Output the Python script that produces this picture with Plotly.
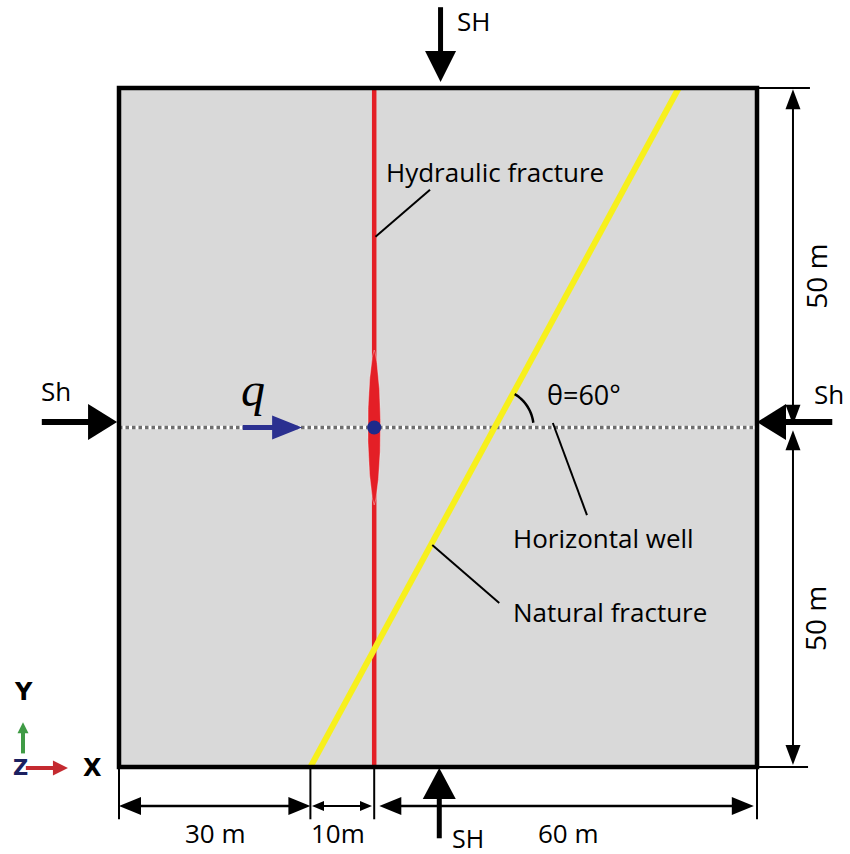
import math
import numpy as np
import plotly.graph_objects as go

# ---------------------------------------------------------------- canvas
W, H = 850, 854
X_RANGE = [-18.652, 114.577]
Y_RANGE = [-12.813, 112.960]
MX = (X_RANGE[1] - X_RANGE[0]) / W   # metres per pixel along x
MY = (Y_RANGE[1] - Y_RANGE[0]) / H   # metres per pixel along y

# ---------------------------------------------------------------- model data (m)
domain_x = [0, 100]
domain_y = [0, 100]
well_y = 50
hf_x = 40                      # hydraulic fracture position
hf_half_length = 11.4          # opened part of the hydraulic fracture
hf_half_aperture = 1.0
nf_x0 = 30                     # natural fracture trace at y = 0
nf_angle_deg = 60              # approach angle θ
q_arrow_x = [19.4, 28.7]

seg_edges = [0, 30, 40, 100]
seg_labels = ["30 m", "10m", "60 m"]
half_edges = [0, 50, 100]
half_labels = ["50 m", "50 m"]

FONT = "Open Sans"
RED = "#e41f26"
YELLOW = "#f7f01c"
NAVY = "#2b3090"

shapes, annotations = [], []


def head(tx, ty, fx, fy, L, Wd, color):
    """Filled triangular arrow head with its tip at (tx, ty), pointing away from (fx, fy)."""
    ux, uy = (tx - fx) / MX, (ty - fy) / MY
    n = math.hypot(ux, uy)
    ux, uy = ux / n, uy / n
    px, py = -uy, ux
    pts = [(0, 0),
           (-L * ux + Wd / 2 * px, -L * uy + Wd / 2 * py),
           (-L * ux - Wd / 2 * px, -L * uy - Wd / 2 * py)]
    path = "M " + " L ".join(f"{tx + a * MX:.4f},{ty + b * MY:.4f}" for a, b in pts) + " Z"
    shapes.append(dict(type="path", path=path, xref="x", yref="y",
                       fillcolor=color, line=dict(width=0), layer="above"))
    return ux, uy


def seg(x0, y0, x1, y1, color="black", width=2):
    shapes.append(dict(type="line", x0=x0, y0=y0, x1=x1, y1=y1, xref="x", yref="y",
                       line=dict(color=color, width=width), layer="above"))


def arrow(x0, y0, x1, y1, color="black", width=2, L=20, Wd=16, both=False):
    ux, uy = head(x1, y1, x0, y0, L, Wd, color)
    ex, ey = x1 - 0.7 * L * ux * MX, y1 - 0.7 * L * uy * MY
    sx, sy = x0, y0
    if both:
        vx, vy = head(x0, y0, x1, y1, L, Wd, color)
        sx, sy = x0 - 0.7 * L * vx * MX, y0 - 0.7 * L * vy * MY
    seg(sx, sy, ex, ey, color, width)


def label(x, y, text, size=26, color="black", **kw):
    annotations.append(dict(x=x, y=y, xref="x", yref="y", text=text, showarrow=False,
                            font=dict(family=FONT, size=size, color=color), **kw))


fig = go.Figure()

# rock block
shapes.append(dict(type="rect", x0=domain_x[0], x1=domain_x[1], y0=domain_y[0], y1=domain_y[1],
                   xref="x", yref="y", fillcolor="#d9d9d9", line=dict(width=0), layer="below"))

# horizontal well (white core with grey dots)
fig.add_trace(go.Scatter(x=domain_x, y=[well_y, well_y], mode="lines",
                         line=dict(color="white", width=3.5), hoverinfo="skip"))
fig.add_trace(go.Scatter(x=domain_x, y=[well_y, well_y], mode="lines",
                         line=dict(color="#6f6f6f", width=3.5, dash="3.5px,3px"), hoverinfo="skip"))

# hydraulic fracture
fig.add_trace(go.Scatter(x=[hf_x, hf_x], y=domain_y, mode="lines",
                         line=dict(color=RED, width=4.5), hoverinfo="skip"))

# natural fracture
t = math.tan(math.radians(nf_angle_deg))
nf_x = [nf_x0, nf_x0 + (domain_y[1] - domain_y[0]) / t]
fig.add_trace(go.Scatter(x=nf_x, y=domain_y, mode="lines",
                         line=dict(color=YELLOW, width=6), hoverinfo="skip"))

# opened part of the hydraulic fracture
s = np.linspace(-1, 1, 81)
lens_y = well_y + hf_half_length * s
lens_w = hf_half_aperture * (1 - s ** 2) ** 0.7
fig.add_trace(go.Scatter(x=np.concatenate([hf_x + lens_w, (hf_x - lens_w)[::-1]]),
                         y=np.concatenate([lens_y, lens_y[::-1]]),
                         mode="lines", fill="toself", fillcolor=RED,
                         line=dict(color="rgba(255,255,255,0.45)", width=0.8), hoverinfo="skip"))

# injection point
fig.add_trace(go.Scatter(x=[hf_x], y=[well_y], mode="markers",
                         marker=dict(color="#1e2a8a", size=14), hoverinfo="skip"))

# block outline
shapes.append(dict(type="rect", x0=domain_x[0], x1=domain_x[1], y0=domain_y[0], y1=domain_y[1],
                   xref="x", yref="y", line=dict(color="black", width=4.5), layer="above"))

# angle arc between well and natural fracture
cx = nf_x0 + well_y / t
a = np.radians(np.linspace(7, 59, 30))
r = 39
shapes.append(dict(type="path", xref="x", yref="y", layer="above",
                   path="M " + " L ".join(f"{cx + r * math.cos(v) * MX:.4f},{well_y + r * math.sin(v) * MY:.4f}" for v in a),
                   line=dict(color="black", width=2.5)))
label(66.7, 54.9, "θ=60°", size=27, xanchor="left")

# leader lines and callouts
seg(hf_x + 0.2, 78.1, 48.75, 85.0)
label(41.5, 87.6, "Hydraulic fracture", xanchor="left")
seg(68.0, 50.66, 73.35, 37.1)
label(61.4, 33.8, "Horizontal well", xanchor="left")
seg(49.1, 32.7, 59.6, 24.15)
label(61.4, 22.9, "Natural fracture", xanchor="left")

# injection rate
arrow(q_arrow_x[0], well_y, q_arrow_x[1], well_y, color=NAVY, width=5, L=30, Wd=24)
annotations.append(dict(x=21.0, y=55.6, xref="x", yref="y", text="<i>q</i>", showarrow=False,
                        font=dict(family="Liberation Serif", size=48, color="black")))

# in-situ stresses
sh_y = 50.8
arrow(-12.1, sh_y, -0.3, sh_y, width=6, L=29, Wd=36)
label(-9.9, 55.4, "Sh")
arrow(111.8, sh_y, 100.0, sh_y, width=6, L=29, Wd=36)
label(111.3, 54.9, "Sh")
arrow(50.4, 111.9, 50.4, 100.9, width=5, L=31, Wd=31)
label(55.5, 109.9, "SH")
arrow(50.2, -10.5, 50.2, -0.15, width=5, L=31, Wd=33)
label(54.7, -12.75, "SH", size=25, yanchor="bottom", yshift=-3)

# bottom dimensions
dim_y = -5.74
for e in seg_edges:
    seg(e, -0.15, e, -7.7, width=2)
arrow(seg_edges[0], dim_y, seg_edges[1], dim_y, width=2.5, L=22, Wd=18, both=True)
arrow(seg_edges[1] + 0.25, dim_y, seg_edges[2] - 0.35, dim_y, width=2, L=12, Wd=10, both=True)
arrow(seg_edges[2] + 0.8, dim_y, seg_edges[3] - 0.5, dim_y, width=2.5, L=22, Wd=18, both=True)
for txt, xc in zip(seg_labels, [15.05, 34.3, 70.4]):
    label(xc, -9.75, txt)

# right-hand dimensions
dim_x = 105.64
seg(domain_x[1], half_edges[2], 108.3, half_edges[2], width=2)
seg(domain_x[1], half_edges[0], 108.0, half_edges[0], width=2)
arrow(dim_x, half_edges[2] - 0.2, dim_x, half_edges[1] + 0.4, width=2, L=20, Wd=15, both=True)
arrow(dim_x, half_edges[1] - 0.4, dim_x, half_edges[0] + 0.3, width=2, L=20, Wd=15, both=True)
for txt, yc in zip(half_labels, [72.3, 21.9]):
    label(109.2, yc, txt, size=28, textangle=-90)

# coordinate triad
arrow(-15.05, 2.0, -15.05, 6.6, color="#3f9b45", width=4, L=11, Wd=11)
arrow(-14.6, -0.15, -8.0, -0.15, color="#c42a30", width=4, L=15, Wd=15)
annotations.append(dict(x=-15.5, y=-0.15, xref="x", yref="y", text="<b>Z</b>", showarrow=False,
                        font=dict(family="DejaVu Sans", size=21, color="#1b2060")))
annotations.append(dict(x=-14.9, y=11.0, xref="x", yref="y", text="<b>Y</b>", showarrow=False,
                        font=dict(family="DejaVu Sans", size=24, color="black")))
annotations.append(dict(x=-4.1, y=-0.15, xref="x", yref="y", text="<b>X</b>", showarrow=False,
                        font=dict(family="DejaVu Sans", size=24, color="black")))

fig.update_layout(
    width=W, height=H, autosize=False,
    margin=dict(l=0, r=0, t=0, b=0),
    paper_bgcolor="white", plot_bgcolor="white",
    showlegend=False,
    shapes=shapes, annotations=annotations,
    xaxis=dict(range=X_RANGE, visible=False, fixedrange=True),
    yaxis=dict(range=Y_RANGE, visible=False, fixedrange=True),
)

fig.write_html("out.html")
